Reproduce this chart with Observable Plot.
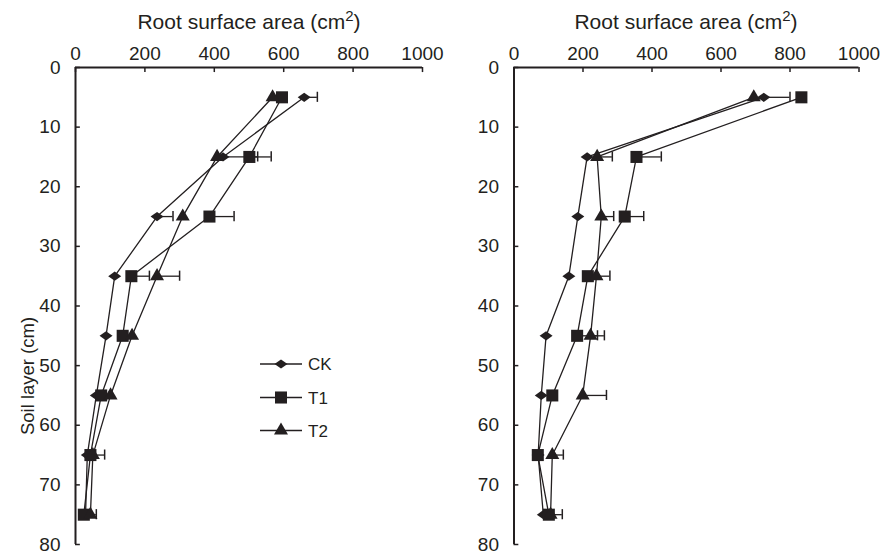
<!DOCTYPE html>
<html><head><meta charset="utf-8">
<script src="https://cdn.jsdelivr.net/npm/d3@7"></script>
<script src="https://cdn.jsdelivr.net/npm/@observablehq/plot@0.6"></script>
<style>
body{margin:0;background:#fff;}
#wrap{position:relative;width:881px;height:555px;overflow:hidden;}
#wrap svg{position:absolute;top:0;overflow:visible;}
</style></head>
<body><div id="wrap"></div>
<script>
// ---- data ----
const depths = [5, 15, 25, 35, 45, 55, 65, 75];
const xTicks = [0, 200, 400, 600, 800, 1000];
const yTicks = [0, 10, 20, 30, 40, 50, 60, 70, 80];
const seriesNames = ["CK", "T1", "T2"];
const xTitle = "Root surface area (cm";
const xTitleSup = "2";
const yTitle = "Soil layer (cm)";

// left panel
const leftCK = [659, 425, 235, 113, 88, 60, 34, 29];
const leftT1 = [595, 501, 386, 161, 136, 74, 43, 24];
const leftT2 = [568, 408, 309, 235, 163, 101, 50, 43];
const leftCKErr = [38, 100, 46, 0, 0, 0, 0, 0];
const leftT1Err = [0, 63, 71, 52, 0, 0, 0, 0];
const leftT2Err = [0, 0, 0, 65, 0, 0, 34, 17];

// right panel
const rightCK = [724, 212, 185, 159, 93, 79, 70, 85];
const rightT1 = [833, 355, 321, 214, 183, 111, 69, 101];
const rightT2 = [695, 241, 253, 239, 222, 199, 111, 106];
const rightCKErr = [76, 0, 0, 0, 0, 0, 0, 0];
const rightT1Err = [0, 72, 55, 0, 59, 0, 0, 0];
const rightT2Err = [0, 44, 36, 39, 40, 69, 32, 34];

// ---- build ----
const INK = "#231f20";
const FONT = "'Liberation Sans', Arial, Helvetica, sans-serif";
const wideDiamond = {draw(ctx) { ctx.moveTo(-6.5, 0); ctx.lineTo(0, -4.6); ctx.lineTo(6.5, 0); ctx.lineTo(0, 4.6); ctx.closePath(); }};
const symbols = {CK: wideDiamond, T1: "square", T2: "triangle"};
const radii = {CK: 5, T1: 6.8, T2: 5.2};

function rows(vals, errs) {
  const out = [];
  seriesNames.forEach((s, i) => {
    depths.forEach((d, j) => out.push({series: s, depth: d, v: vals[i][j], err: errs[i][j]}));
  });
  return out;
}

function panel(data, opts) {
  const withErr = data.filter(d => d.err > 0);
  return Plot.plot({
    width: opts.width, height: 555,
    marginLeft: opts.ml, marginRight: opts.mr, marginTop: 67, marginBottom: 11,
    x: {domain: [0, 1000]},
    y: {domain: [0, 80], reverse: true},
    style: {fontFamily: FONT, fontSize: "19px", color: INK, background: "transparent", overflow: "visible"},
    marks: [
      Plot.axisX(xTicks, {anchor: "top", tickSize: 0, tickPadding: 8, label: null, fontSize: 19, tickFormat: d => String(d)}),
      Plot.axisY(yTicks, {anchor: "left", tickSize: 0, tickPadding: 15, label: null, fontSize: 19, tickFormat: d => String(d)}),
      Plot.ruleX(xTicks, {x: d => d, y1: 0, y2: 0.85, stroke: INK, strokeWidth: 1.5}),
      Plot.ruleY(yTicks, {y: d => d, x1: 0, x2: 14, stroke: INK, strokeWidth: 1.5}),
      Plot.ruleY(withErr, {y: "depth", x1: "v", x2: d => d.v + d.err, stroke: INK, strokeWidth: 1.3}),
      Plot.ruleX(withErr, {x: d => d.v + d.err, y1: d => d.depth - 0.85, y2: d => d.depth + 0.85, stroke: INK, strokeWidth: 1.5}),
      Plot.line(data, {x: "v", y: "depth", z: "series", stroke: INK, strokeWidth: 1.3}),
      ...seriesNames.map(s => Plot.dot(data.filter(d => d.series === s), {
        x: "v", y: "depth", symbol: symbols[s], r: radii[s], fill: INK, stroke: "none"
      })),
      Plot.ruleX([0], {y1: 0, y2: 80, stroke: INK, strokeWidth: 2}),
      Plot.ruleY([0], {x1: 0, x2: 1000, stroke: INK, strokeWidth: 2})
    ]
  });
}

const wrap = document.getElementById("wrap");
const left = panel(rows([leftCK, leftT1, leftT2], [leftCKErr, leftT1Err, leftT2Err]), {width: 440, ml: 75, mr: 18});
left.style.left = "0px";
wrap.appendChild(left);
const right = panel(rows([rightCK, rightT1, rightT2], [rightCKErr, rightT1Err, rightT2Err]), {width: 441, ml: 73.5, mr: 22.5});
right.style.left = "440px";
wrap.appendChild(right);

// overlay for titles and legend
const ov = d3.select(wrap).append("svg").attr("width", 881).attr("height", 555)
  .style("left", "0px").style("font-family", FONT).attr("fill", INK);
[249, 686].forEach(cx => {
  const t = ov.append("text").attr("x", cx).attr("y", 29).attr("text-anchor", "middle").attr("font-size", 21);
  t.append("tspan").text(xTitle);
  t.append("tspan").attr("dy", -8).attr("font-size", 15).text(xTitleSup);
  t.append("tspan").attr("dy", 8).text(")");
});
ov.append("text").attr("transform", "translate(34,376) rotate(-90)").attr("text-anchor", "middle")
  .attr("font-size", 18.5).text(yTitle);

// legend
const legY = [364, 397.5, 430.5];
seriesNames.forEach((s, i) => {
  const g = ov.append("g").attr("transform", `translate(0,${legY[i]})`);
  g.append("line").attr("x1", 260).attr("x2", 302).attr("stroke", INK).attr("stroke-width", 1.3);
  const sym = s === "CK" ? wideDiamond : s === "T1" ? d3.symbolSquare : d3.symbolTriangle;
  g.append("path").attr("transform", "translate(281,0)")
    .attr("d", d3.symbol(sym, radii[s] * radii[s] * Math.PI)());
  g.append("text").attr("x", 308).attr("y", 6).attr("font-size", 17).text(s);
});
</script></body></html>
